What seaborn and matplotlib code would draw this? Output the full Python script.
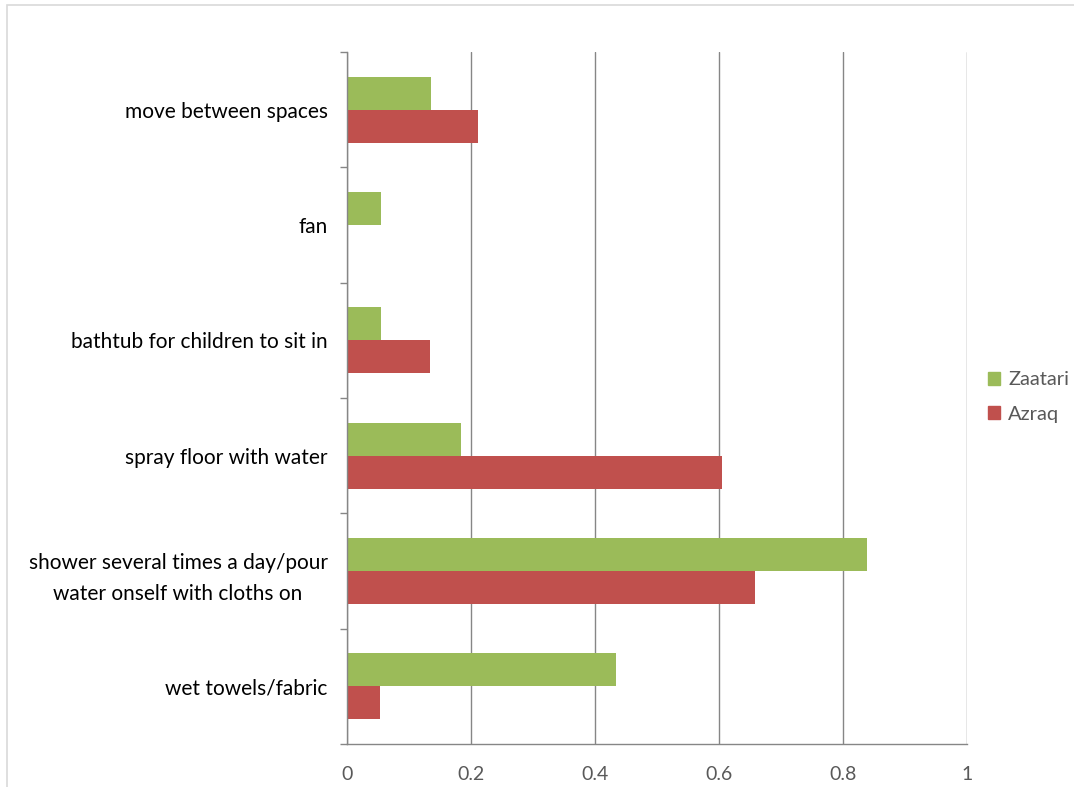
import matplotlib
matplotlib.use("Agg")
import matplotlib.pyplot as plt
import matplotlib.patches as mpatches
import pandas as pd
import seaborn as sns

categories = [
    "move between spaces",
    "fan",
    "bathtub for children to sit in",
    "spray floor with water",
    "shower several times a day/pour\nwater onself with cloths on",
    "wet towels/fabric",
]
zaatari = [0.135, 0.055, 0.055, 0.184, 0.838, 0.434]
azraq = [0.211, 0.0, 0.134, 0.605, 0.658, 0.053]
series = ["Zaatari", "Azraq"]
colors = {"Zaatari": "#9BBB59", "Azraq": "#C0504D"}
xticks = [0, 0.2, 0.4, 0.6, 0.8, 1]
xtick_labels = ["0", "0.2", "0.4", "0.6", "0.8", "1"]

df = pd.DataFrame({
    "category": categories * 2,
    "value": zaatari + azraq,
    "series": ["Zaatari"] * len(categories) + ["Azraq"] * len(categories),
})

sns.set_style("white")
plt.rcParams["font.family"] = ["Lato", "DejaVu Sans"]

fig = plt.figure(figsize=(10.74, 7.87), dpi=100)
ax = fig.add_axes([347 / 1074, 1 - 744 / 787, 620 / 1074, 692 / 787])

sns.barplot(data=df, y="category", x="value", hue="series", order=categories,
            hue_order=series, palette=colors, orient="h", width=0.57,
            saturation=1, linewidth=0, ax=ax, legend=False)

ax.set_xlim(0, 1)
ax.set_ylim(len(categories) - 0.5, -0.5)
ax.set_xticks(xticks)
ax.set_xticklabels(xtick_labels, fontsize=14, color="#595959")
ax.set_xlabel("")
ax.set_ylabel("")

# category labels sit between boundary ticks
ax.set_yticks(range(len(categories)))
ax.set_yticklabels(categories, fontsize=15, color="black")
for lbl in ax.get_yticklabels():
    lbl.set_multialignment("center")
    lbl.set_linespacing(1.7)
ax.tick_params(axis="y", which="major", length=0, pad=14)
ax.set_yticks([i - 0.5 for i in range(len(categories) + 1)], minor=True)
ax.tick_params(axis="y", which="minor", length=5, width=1, color="#868686",
               direction="out", left=True)
ax.tick_params(axis="x", length=0, pad=16)

ax.grid(axis="x", color="#868686", linewidth=1)
ax.grid(axis="y", visible=False)
ax.set_axisbelow(True)
for side in ["top", "right"]:
    ax.spines[side].set_visible(False)
for side in ["left", "bottom"]:
    ax.spines[side].set_color("#868686")
    ax.spines[side].set_linewidth(1)

handles = [mpatches.Patch(color=colors[s], label=s) for s in series]
fig.legend(handles=handles, loc="center left", bbox_to_anchor=(988 / 1074, 1 - 397 / 787),
           frameon=False, fontsize=14.5, handlelength=0.6, handleheight=0.6,
           handletextpad=0.4, labelspacing=0.85, borderpad=0, borderaxespad=0,
           labelcolor="#595959")

# outer chart border
fig.add_artist(mpatches.Rectangle((7 / 1074, -0.05), 1.1, 1 - 5 / 787 + 0.05,
                                  transform=fig.transFigure, fill=False,
                                  edgecolor="#D9D9D9", linewidth=1.2))

fig.savefig("out.png", dpi=100)
